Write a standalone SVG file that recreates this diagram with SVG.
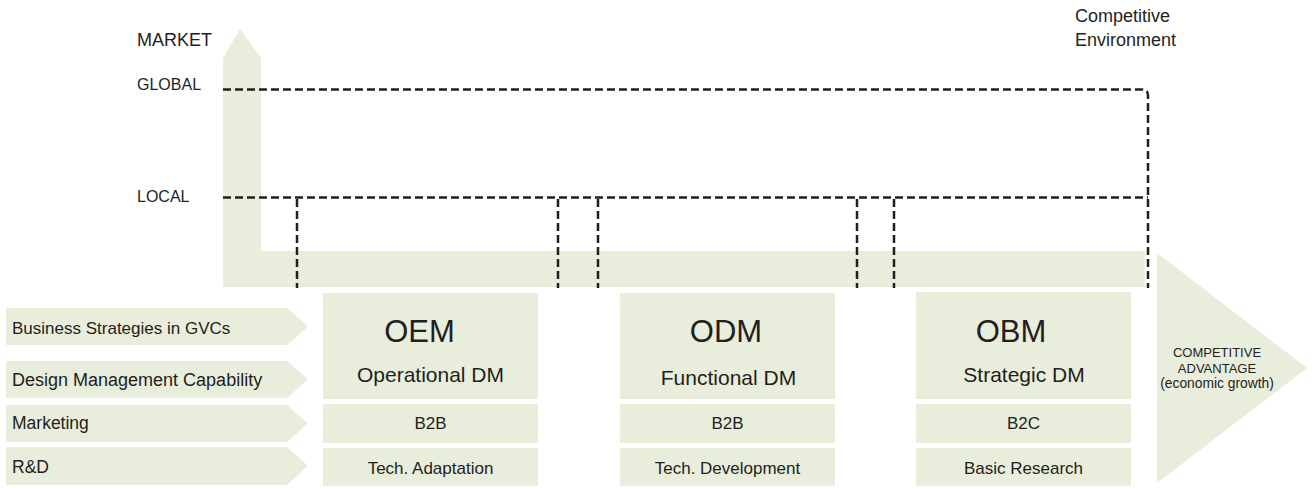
<svg xmlns="http://www.w3.org/2000/svg" width="1312" height="488" viewBox="0 0 1312 488">
<style>
.fill{fill:#E9EDDB;stroke:none}
.dash{fill:none;stroke:#231F20;stroke-width:2.5;stroke-dasharray:8 4}
text{font-family:"Liberation Sans",Arial,sans-serif;fill:#231F20}
.lbl{font-size:17.5px}
.axis{font-size:16px}
.big{font-size:31px;text-anchor:middle}
.mid{font-size:21px;text-anchor:middle}
.row{font-size:17px;text-anchor:middle}
.adv{font-size:13px;text-anchor:middle}
</style>
<rect width="1312" height="488" fill="#FFFFFF"/>
<g id="market-axis">
<path class="fill" d="M240,29 L261,58 L261,251 L1145,251 L1145,287 L223,287 L223,58 Z"/>
<text x="137" y="46" style="font-size:18px">MARKET</text>
<text class="axis" x="137" y="90">GLOBAL</text>
<text class="axis" x="137" y="202">LOCAL</text>
</g>
<g id="connectors">
<path class="dash" d="M223,89.5 L1142,89.5 Q1148,89.5 1148,95.5 L1148,288"/>
<path class="dash" d="M223,197.5 L1148,197.5"/>
<path class="dash" d="M297,199 L297,288"/>
<path class="dash" d="M558,199 L558,288"/>
<path class="dash" d="M598,199 L598,288"/>
<path class="dash" d="M857,199 L857,288"/>
<path class="dash" d="M894,199 L894,288"/>
</g>
<g id="env-label">
<text x="1075" y="22" style="font-size:18px">Competitive</text>
<text x="1075" y="46" style="font-size:18px">Environment</text>
</g>
<g id="row-business">
<path class="fill" d="M6,308 L287,308 L308,326.5 L287,345 L6,345 Z"/>
<text class="lbl" x="12" y="334" style="font-size:17px">Business Strategies in GVCs</text>
</g>
<g id="row-design">
<path class="fill" d="M6,361 L287,361 L308,379.5 L287,398 L6,398 Z"/>
<text class="lbl" x="12" y="386" style="font-size:18px">Design Management Capability</text>
</g>
<g id="row-marketing">
<path class="fill" d="M6,405 L287,405 L308,423.5 L287,442 L6,442 Z"/>
<text class="lbl" x="12" y="429">Marketing</text>
</g>
<g id="row-rd">
<path class="fill" d="M6,447 L287,447 L308,466 L287,485 L6,485 Z"/>
<text class="lbl" x="12" y="473">R&amp;D</text>
</g>
<g id="oem">
<rect class="fill" x="323" y="293" width="215" height="106"/>
<rect class="fill" x="323" y="404" width="215" height="39"/>
<rect class="fill" x="323" y="448" width="215" height="38"/>
<text class="big" x="419.5" y="342">OEM</text>
<text class="mid" x="430.5" y="382">Operational DM</text>
<text class="row" x="430.5" y="429">B2B</text>
<text class="row" x="430.5" y="474">Tech. Adaptation</text>
</g>
<g id="odm">
<rect class="fill" x="620" y="293" width="215" height="106"/>
<rect class="fill" x="620" y="404" width="215" height="39"/>
<rect class="fill" x="620" y="448" width="215" height="38"/>
<text class="big" x="726" y="342">ODM</text>
<text class="mid" x="728.5" y="385">Functional DM</text>
<text class="row" x="727.5" y="429">B2B</text>
<text class="row" x="727.5" y="474">Tech. Development</text>
</g>
<g id="obm">
<rect class="fill" x="916" y="292" width="215" height="107"/>
<rect class="fill" x="916" y="404" width="215" height="39"/>
<rect class="fill" x="916" y="448" width="215" height="38"/>
<text class="big" x="1011" y="342">OBM</text>
<text class="mid" x="1024" y="382">Strategic DM</text>
<text class="row" x="1023.5" y="429">B2C</text>
<text class="row" x="1023.5" y="474">Basic Research</text>
</g>
<g id="advantage">
<path class="fill" d="M1157,253 L1307,368 L1157,483 Z"/>
<text class="adv" x="1217" y="357">COMPETITIVE</text>
<text class="adv" x="1217" y="372.5">ADVANTAGE</text>
<text class="adv" x="1217" y="388" style="font-size:13.8px">(economic growth)</text>
</g>
</svg>
